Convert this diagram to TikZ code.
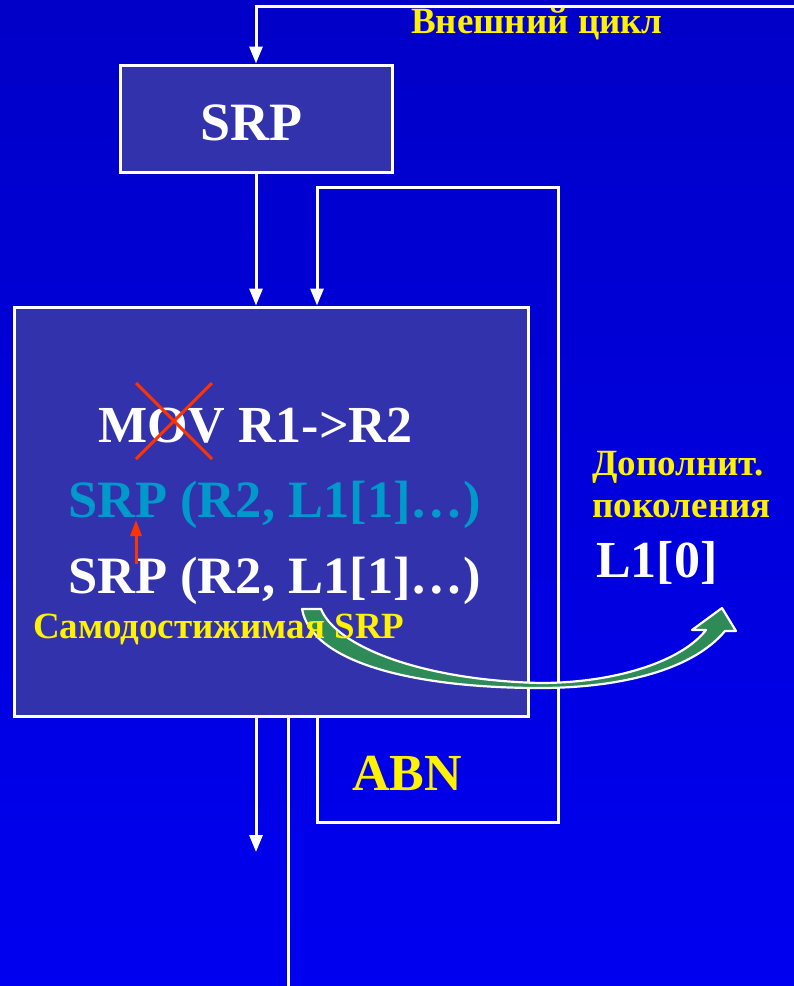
\documentclass[tikz,border=0pt]{standalone}
\usepackage{fontspec}
\setmainfont{Liberation Serif}
\usetikzlibrary{arrows.meta,calc}
\definecolor{bgtop}{RGB}{0,0,200}
\definecolor{bgbot}{RGB}{0,0,240}
\definecolor{boxfill}{RGB}{50,50,172}
\definecolor{tealtxt}{RGB}{0,153,204}
\definecolor{arrgreen}{RGB}{46,139,87}
\definecolor{crossred}{RGB}{255,51,0}
\newcommand{\fsz}[1]{\fontsize{#1}{#1}\selectfont\bfseries}
\begin{document}
\begin{tikzpicture}[x=1pt,y=-1pt,
  wline/.style={draw=white,line width=3pt},
  warrow/.style={wline,-{Triangle[width=13pt,length=17pt]}},
  box/.style={draw=white,line width=3pt,fill=boxfill,inner sep=0pt},
  txt/.style={inner sep=0pt,anchor=base west},
  redline/.style={draw=crossred,line width=3pt},
]
\shade[top color=bgtop,bottom color=bgbot] (0,0) rectangle (794,986);
\useasboundingbox (0,0) rectangle (794,986);

% boxes
\node[box,minimum width=272pt,minimum height=107pt] (srp) at (256,118.5) {};
\node[box,minimum width=514pt,minimum height=409pt] (mainbox) at (271,511.5) {};

% coordinates
\coordinate (topin) at (794,6);
\coordinate (l1) at (317,187);
\coordinate (l2) at (558,187);
\coordinate (l3) at (558,822);
\coordinate (l4) at (317,822);
\coordinate (outa) at (256,852);
\coordinate (outb) at (288,986);

% connectors
\draw[warrow] (topin) -| (srp.north);
\draw[warrow] (srp.south) -- (srp.south |- mainbox.north);
\draw[warrow] (l4 |- mainbox.south) -- (l4) -- (l3) -- (l2) -- (l1) -- (l1 |- mainbox.north);
\draw[warrow] (outa |- mainbox.south) -- (outa);
\draw[wline] (outb |- mainbox.south) -- (outb);

% texts
\node[txt,text=white] (srptxt) at (200,140) {\fsz{54}SRP};
\node[txt,text=yellow] (outer) at (411,33) {\fsz{37}Внешний цикл};
\node[txt,text=white] (mov) at (98,442) {\fsz{52}MOV R1->R2};
\node[txt,text=tealtxt] (srp2) at (68,517) {\fsz{52.5}SRP (R2, L1[1]…)};
\node[txt,text=white] (srp3) at (68,593) {\fsz{52.5}SRP (R2, L1[1]…)};
\node[txt,text=yellow] (dop1) at (592,475) {\fsz{37}Дополнит.};
\node[txt,text=yellow] (dop2) at (592,517) {\fsz{37}поколения};
\node[txt,text=white] (l10) at (596,577) {\fsz{52}L1[0]};
\node[txt,text=yellow] (abn) at (352,790) {\fsz{52}ABN};

% green curved arrow
\draw[white,line width=2.2pt,fill=arrgreen,line join=round]
  (302,609) -- (321,609)
  .. controls (336,646) and (420,680) .. (540,683)
  .. controls (612,683) and (680,663) .. (706,630)
  -- (692,630) -- (722,608) -- (736,631) -- (725,631)
  .. controls (690,673) and (612,688) .. (540,688)
  .. controls (418,688) and (312,664) .. (302,609) -- cycle;

\node[txt,text=yellow] (self) at (33,638) {\fsz{37}Самодостижимая SRP};

% red cross and arrow
\coordinate (x1) at (136,383);
\coordinate (x2) at (212,459);
\coordinate (x3) at (212,383);
\coordinate (x4) at (136,459);
\draw[redline] (x1) -- (x2);
\draw[redline] (x3) -- (x4);
\coordinate (rtail) at (136,564);
\coordinate (rtip) at (136,520);
\draw[redline,-{Triangle[width=11pt,length=16pt]}] (rtail) -- (rtip);
\end{tikzpicture}
\end{document}
